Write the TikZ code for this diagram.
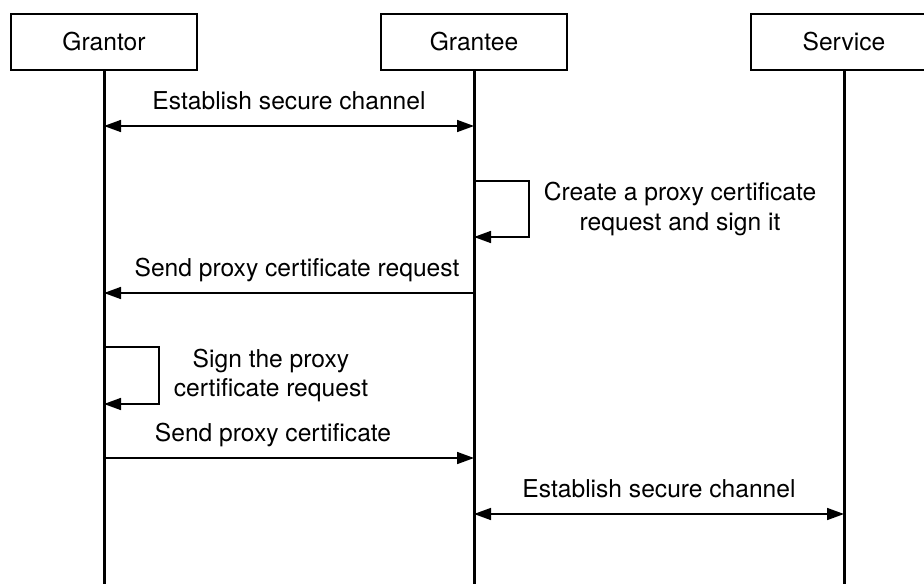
\documentclass[tikz,border=0pt]{standalone}
\usepackage{fontspec}
\setmainfont{TeX Gyre Heros}
\usetikzlibrary{arrows.meta,positioning}

\begin{document}
\begin{tikzpicture}[
    x=0.5pt, y=-0.5pt,
    node distance=0.45cm and 92pt,
    font=\fontsize{12.3}{14.8}\selectfont,
    actor/.style={draw, line width=1pt, outer sep=0pt, inner sep=0pt,
                  minimum width=93pt, minimum height=28pt},
    life/.style={line width=1.5pt},
    msg/.style={line width=0.8pt, -{Triangle[length=8.5pt,width=6pt]}},
    twoway/.style={msg, {Triangle[length=8.5pt,width=6pt]}-{Triangle[length=8.5pt,width=6pt]}},
    lbl/.style={inner sep=0pt, text height=0.75em, text depth=0.25em},
    note/.style={inner sep=0pt, align=center}
  ]
    \clip (0,0) rectangle (924,584);
    \node[actor] (grantor) at (104,42) {Grantor};
    \node[actor, right=of grantor] (grantee) {Grantee};
    \node[actor, right=of grantee] (service) {Service};
    % lifelines
    \coordinate (bottom) at (0,584);
    \draw[life] (grantor) -- (grantor |- bottom);
    \draw[life] (grantee) -- (grantee |- bottom);
    \draw[life] (service) -- (service |- bottom);
    % message rows
    \coordinate (m1) at (0,126);
    \coordinate (s1) at (0,181);
    \coordinate (e1) at (0,237);
    \coordinate (m3) at (0,293);
    \coordinate (s2) at (0,347);
    \coordinate (e2) at (0,404);
    \coordinate (m5) at (0,458);
    \coordinate (m6) at (0,514);
    \draw[twoway] (grantor |- m1) -- node[lbl, above=5.5pt] {Establish secure channel} (grantee |- m1);
    \draw[msg] (grantee |- s1) -- ++(55,0) -- node[note, right=7pt] {Create a proxy certificate\\request and sign it} ++(0,56) -- (grantee |- e1);
    \draw[msg] (grantee |- m3) -- node[lbl, above=5.5pt, xshift=4pt] {Send proxy certificate request} (grantor |- m3);
    \draw[msg] (grantor |- s2) -- ++(55,0) -- node[note, right=7pt] {Sign the proxy\\certificate request} ++(0,57) -- (grantor |- e2);
    \draw[msg] (grantor |- m5) -- node[lbl, above=5.5pt, xshift=-8pt] {Send proxy certificate} (grantee |- m5);
    \draw[twoway] (grantee |- m6) -- node[lbl, above=5.5pt] {Establish secure channel} (service |- m6);
  \end{tikzpicture}
\end{document}
